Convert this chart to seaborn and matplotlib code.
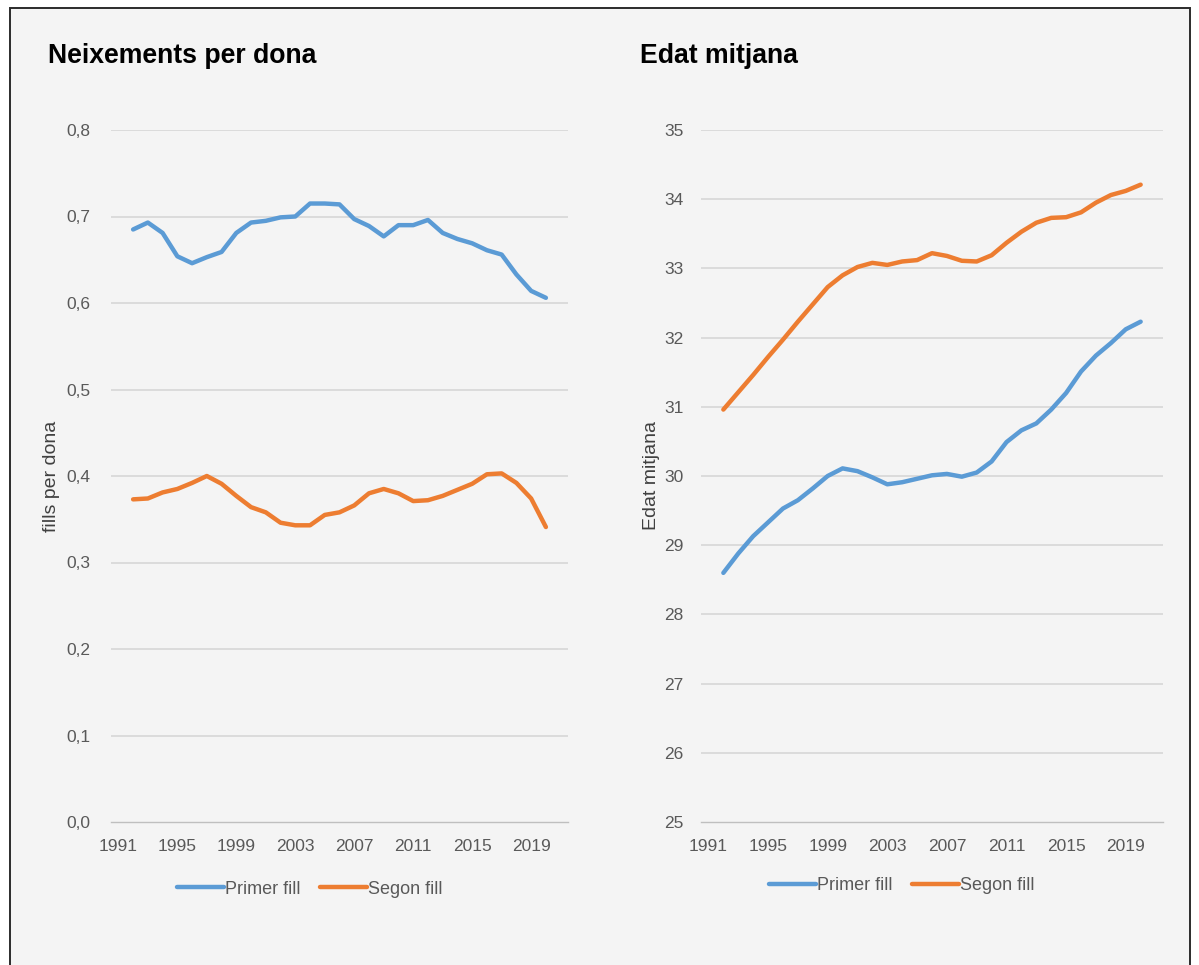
"""
Neixements per dona i edat mitjana de la mare, primer i segon fill
"""
import numpy as np
import pandas as pd
import matplotlib
matplotlib.use("Agg")
import matplotlib.pyplot as plt
from matplotlib import font_manager
from matplotlib.patches import Rectangle
from matplotlib.ticker import FuncFormatter
import seaborn as sns

# dades llegides del gràfic (1992-2020)
anys = list(range(1992, 2021))
naix_primer = [0.685, 0.693, 0.681, 0.654, 0.646, 0.653, 0.659, 0.681, 0.693, 0.695,
               0.699, 0.700, 0.715, 0.715, 0.714, 0.697, 0.689, 0.677, 0.690, 0.690,
               0.696, 0.681, 0.674, 0.669, 0.661, 0.656, 0.633, 0.614, 0.606]
naix_segon = [0.373, 0.374, 0.381, 0.385, 0.392, 0.400, 0.391, 0.377, 0.364, 0.358,
              0.346, 0.343, 0.343, 0.355, 0.358, 0.366, 0.380, 0.385, 0.380, 0.371,
              0.372, 0.377, 0.384, 0.391, 0.402, 0.403, 0.392, 0.374, 0.341]
edat_primer = [28.60, 28.88, 29.13, 29.33, 29.53, 29.65, 29.82, 30.00, 30.11, 30.07,
               29.98, 29.88, 29.91, 29.96, 30.01, 30.03, 29.99, 30.05, 30.21, 30.49,
               30.66, 30.76, 30.96, 31.20, 31.51, 31.74, 31.92, 32.12, 32.23]
edat_segon = [30.96, 31.21, 31.46, 31.72, 31.97, 32.23, 32.48, 32.73, 32.90, 33.02,
              33.08, 33.05, 33.10, 33.12, 33.22, 33.18, 33.11, 33.10, 33.19, 33.37,
              33.53, 33.66, 33.73, 33.74, 33.81, 33.95, 34.06, 34.12, 34.21]

series = ["Primer fill", "Segon fill"]
colors = {"Primer fill": "#5b9bd5", "Segon fill": "#ed7d31"}
year_labels = list(range(1991, 2020, 4))

sns.set_theme(style="white")
names = {f.name for f in font_manager.fontManager.ttflist}
narrow = "Liberation Sans Narrow" if "Liberation Sans Narrow" in names else "Liberation Sans"
plt.rcParams["font.family"] = ["Liberation Sans", "DejaVu Sans"]

W, H = 1199, 965
fig = plt.figure(figsize=(W / 100, H / 100), dpi=100, facecolor="white")

# marc de fons (per sota dels eixos)
fig.patches.append(Rectangle((10 / W, -0.05), 1180 / W, 1.05 - 8 / H,
                             transform=fig.transFigure, facecolor="#f4f4f4",
                             edgecolor="#2b2b2b", linewidth=1.4, zorder=-10))


def to_long(primer, segon):
    return pd.DataFrame({
        "any": anys * 2,
        "valor": primer + segon,
        "serie": [series[0]] * len(anys) + [series[1]] * len(anys),
    })


def draw_panel(rect, df, yticks, fmt, ylabel, label_x, ypad, title, title_x, legend_y):
    ax = fig.add_axes(rect)
    ax.patch.set_visible(False)
    sns.lineplot(data=df, x="any", y="valor", hue="serie", palette=colors,
                 linewidth=3.2, ax=ax)
    ax.set_xlim(1990.5, 2021.5)
    ax.set_ylim(yticks[0], yticks[-1])
    ax.set_yticks(yticks)
    ax.yaxis.set_major_formatter(FuncFormatter(fmt))
    ax.set_xticks(year_labels)
    ax.set_xticks(np.arange(1990.5, 2022, 1), minor=True)
    ax.tick_params(axis="x", which="major", length=0, pad=12,
                   labelsize=12.5, labelcolor="#595959")
    ax.tick_params(axis="x", which="minor", length=4, width=0.9,
                   color="#bfbfbf", direction="out")
    ax.tick_params(axis="y", length=0, pad=ypad, labelsize=12.5, labelcolor="#595959")
    for v in yticks[1:]:
        ax.axhline(v, color="#d9d9d9", linewidth=1.3, zorder=0)
    for side in ["top", "right", "left"]:
        ax.spines[side].set_visible(False)
    ax.spines["bottom"].set_color("#bfbfbf")
    ax.spines["bottom"].set_linewidth(1.0)
    ax.set_xlabel("")
    ax.set_ylabel(ylabel, fontsize=14, color="#404040", family=[narrow, "DejaVu Sans"])
    ax.yaxis.set_label_coords(label_x, 0.5)
    sns.move_legend(ax, "center", bbox_to_anchor=(0.435, legend_y), ncol=2,
                    frameon=False, title=None, handlelength=2.6, handletextpad=0.05,
                    columnspacing=1.1, prop={"family": [narrow, "DejaVu Sans"], "size": 13})
    for t in ax.get_legend().get_texts():
        t.set_color("#595959")
    fig.text(title_x / W, 1 - 56 / H, title, fontsize=19.2, fontweight="bold",
             color="black", va="center", ha="left")
    return ax


left = draw_panel([111 / W, (H - 822) / H, 457 / W, 692 / H],
                  to_long(naix_primer, naix_segon),
                  [round(0.1 * i, 1) for i in range(9)],
                  lambda v, p: f"{v:.1f}".replace(".", ","),
                  "fills per dona", -51 / 457, 15, "Neixements per dona", 48, -0.097)
right = draw_panel([701 / W, (H - 822) / H, 462 / W, 692 / H],
                   to_long(edat_primer, edat_segon),
                   list(range(25, 36)),
                   lambda v, p: f"{v:.0f}",
                   "Edat mitjana", -41 / 462, 12.5, "Edat mitjana", 640, -0.092)

fig.savefig("out.png", dpi=100, facecolor=fig.get_facecolor())
